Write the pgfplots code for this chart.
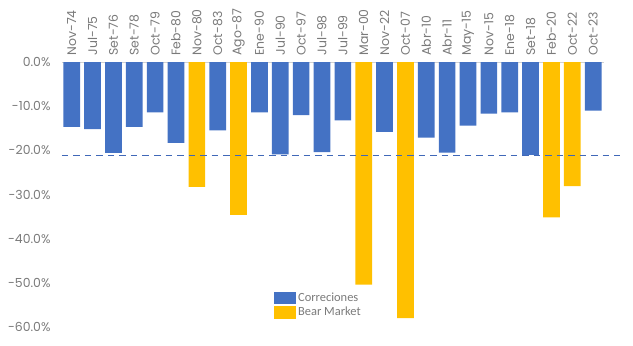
\documentclass[border=0pt]{standalone}
\usepackage{fontspec}
\setmainfont{Poppins}
\newfontfamily\legfont{Carlito}
\usepackage{pgfplots}
\pgfplotsset{compat=1.18}
\definecolor{cblue}{HTML}{4472C4}
\definecolor{cyellow}{HTML}{FFC000}
\definecolor{ctext}{HTML}{7A7A7A}
\definecolor{cline}{HTML}{4068B8}
\begin{document}
\begin{tikzpicture}
\useasboundingbox (-62bp,-19bp) rectangle (571bp,327bp);
\begin{axis}[
  scale only axis,
  width=542bp, height=265bp,
  xmin=-0.465, xmax=25.52,
  ymin=-60, ymax=0,
  axis x line*=top,
  axis y line*=left,
  x axis line style={draw=black!18, line width=0.8pt, -},
  y axis line style={draw=none},
  major tick length=0pt,
  xtick={0,...,25},
  xticklabels={Nov-74,Jul-75,Set-76,Set-78,Oct-79,Feb-80,Nov-80,Oct-83,Ago-87,Ene-90,Jul-90,Oct-97,Jul-98,Jul-99,Mar-00,Nov-22,Oct-07,Abr-10,Abr-11,May-15,Nov-15,Ene-18,Set-18,Feb-20,Oct-22,Oct-23},
  xticklabel style={rotate=90, anchor=west, font=\fontsize{12.5}{14}\selectfont, text=ctext, xshift=3bp},
  ytick={-60,-50,...,0},
  yticklabel={\pgfmathprintnumber[fixed,fixed zerofill,precision=1]{\tick}\%},
  yticklabel style={font=\fontsize{12.5}{14}\selectfont, text=ctext, xshift=-8bp},
  /pgf/number format/assume math mode=true,
  clip=false,
  legend style={at={(0.391,0.136)}, anchor=north west, draw=none, fill=none,
    font=\legfont\fontsize{12.5}{14}\selectfont, text=ctext, row sep=0pt,
    inner sep=0pt},
  legend cell align=left,
  legend image code/.code={\fill[#1] (0bp,-6.3bp) rectangle (22bp,6.3bp);},
]
\addplot[ybar, bar width=0.8, bar shift=0pt, fill=cblue, draw=none] coordinates {
(0,-14.7) (1,-15.2) (2,-20.6) (3,-14.7) (4,-11.4) (5,-18.3)
(7,-15.5) (9,-11.4) (10,-20.9) (11,-12.0) (12,-20.4) (13,-13.2)
(15,-15.8) (17,-17.1) (18,-20.5) (19,-14.4) (20,-11.7) (21,-11.4) (22,-21.0)
(25,-11.0)};
\addlegendentry{Correciones}
\addplot[ybar, bar width=0.8, bar shift=0pt, fill=cyellow, draw=none] coordinates {
(6,-28.3) (8,-34.6) (14,-50.4) (16,-58.0) (23,-35.2) (24,-28.1)};
\addlegendentry{Bear Market}
\addplot[forget plot, cline, line width=1.1pt, dash pattern=on 6.5bp off 5bp] coordinates {(-0.465,-21.2) (26.28,-21.2)};
\end{axis}
\end{tikzpicture}
\end{document}
